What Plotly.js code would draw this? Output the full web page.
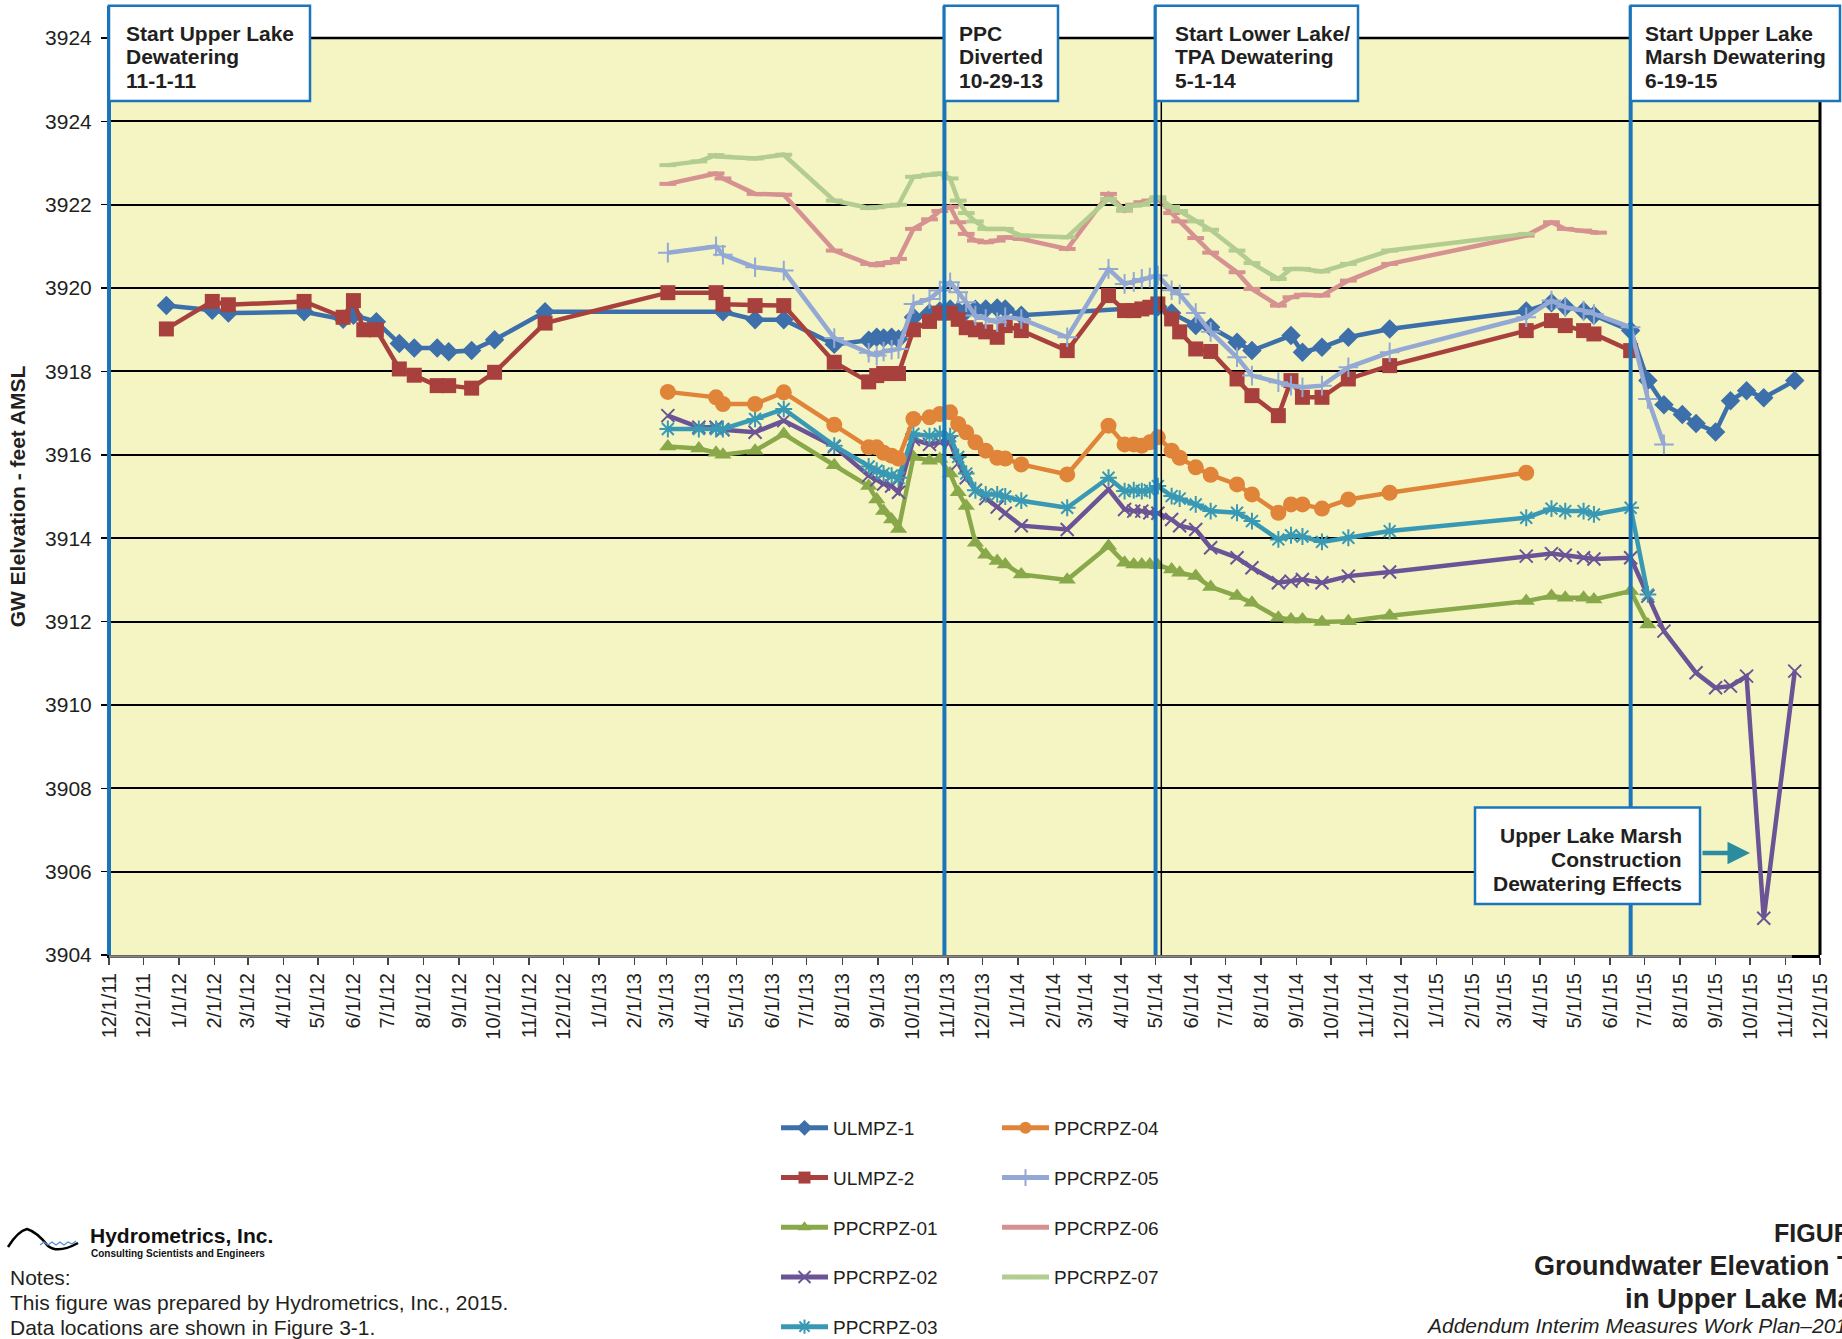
<!DOCTYPE html>
<html>
<head>
<meta charset="utf-8">
<script src="https://cdn.plot.ly/plotly-3.0.1.min.js"></script>
<style>html,body{margin:0;padding:0;background:#fff;}#chart{width:1842px;height:1339px;}</style>
</head>
<body>
<div id="chart"></div>
<script>
// ---------------- DATA ----------------
const tickDates = ['2011-11-01','2011-12-01',
 '2012-01-01','2012-02-01','2012-03-01','2012-04-01','2012-05-01','2012-06-01','2012-07-01','2012-08-01','2012-09-01','2012-10-01','2012-11-01','2012-12-01',
 '2013-01-01','2013-02-01','2013-03-01','2013-04-01','2013-05-01','2013-06-01','2013-07-01','2013-08-01','2013-09-01','2013-10-01','2013-11-01','2013-12-01',
 '2014-01-01','2014-02-01','2014-03-01','2014-04-01','2014-05-01','2014-06-01','2014-07-01','2014-08-01','2014-09-01','2014-10-01','2014-11-01','2014-12-01',
 '2015-01-01','2015-02-01','2015-03-01','2015-04-01','2015-05-01','2015-06-01','2015-07-01','2015-08-01','2015-09-01','2015-10-01','2015-11-01','2015-12-01'];
const tickLabels = ['12/1/11','12/1/11',
 '1/1/12','2/1/12','3/1/12','4/1/12','5/1/12','6/1/12','7/1/12','8/1/12','9/1/12','10/1/12','11/1/12','12/1/12',
 '1/1/13','2/1/13','3/1/13','4/1/13','5/1/13','6/1/13','7/1/13','8/1/13','9/1/13','10/1/13','11/1/13','12/1/13',
 '1/1/14','2/1/14','3/1/14','4/1/14','5/1/14','6/1/14','7/1/14','8/1/14','9/1/14','10/1/14','11/1/14','12/1/14',
 '1/1/15','2/1/15','3/1/15','4/1/15','5/1/15','6/1/15','7/1/15','8/1/15','9/1/15','10/1/15','11/1/15','12/1/15'];
const yTickVals = [3904,3906,3908,3910,3912,3914,3916,3918,3920,3922,3924,3926];
const yTickLabels = ['3904','3906','3908','3910','3912','3914','3916','3918','3920','3922','3924','3924'];

const ulmpz1Dates = ['2011-12-21','2012-01-30','2012-02-13','2012-04-19','2012-05-23','2012-06-01','2012-06-21','2012-07-11','2012-07-24','2012-08-13','2012-08-23','2012-09-12','2012-10-02','2012-11-15',
 '2013-04-19','2013-05-17','2013-06-11','2013-07-25','2013-08-24','2013-08-31','2013-09-06','2013-09-13','2013-09-19','2013-10-02','2013-10-16','2013-10-25','2013-11-03','2013-11-10','2013-11-17','2013-11-25','2013-12-04','2013-12-14','2013-12-21',
 '2014-01-04','2014-05-03','2014-05-15','2014-06-05','2014-06-18','2014-07-11','2014-07-24','2014-08-27','2014-09-06','2014-09-23','2014-10-16','2014-11-21',
 '2015-03-20','2015-04-11','2015-04-23','2015-05-09','2015-05-18','2015-06-19','2015-07-04','2015-07-18','2015-08-03','2015-08-15','2015-09-01','2015-09-14','2015-09-28','2015-10-13','2015-11-09'];
const ulmpz1Vals = [3919.58,3919.47,3919.40,3919.43,3919.25,3919.35,3919.19,3918.67,3918.56,3918.56,3918.47,3918.50,3918.76,3919.43,
 3919.43,3919.24,3919.24,3918.65,3918.75,3918.82,3918.80,3918.82,3918.78,3919.30,3919.40,3919.45,3919.50,3919.45,3919.45,3919.49,3919.50,3919.52,3919.50,
 3919.35,3919.55,3919.40,3919.10,3919.06,3918.70,3918.50,3918.86,3918.46,3918.58,3918.82,3919.02,
 3919.45,3919.65,3919.55,3919.45,3919.35,3918.98,3917.78,3917.20,3916.97,3916.75,3916.55,3917.30,3917.54,3917.37,3917.78];

const ulmpz2Dates = ['2011-12-21','2012-01-30','2012-02-13','2012-04-19','2012-05-23','2012-06-01','2012-06-10','2012-06-21','2012-07-11','2012-07-24','2012-08-13','2012-08-23','2012-09-12','2012-10-02','2012-11-15',
 '2013-03-02','2013-04-13','2013-04-19','2013-05-17','2013-06-11','2013-07-25','2013-08-24','2013-08-31','2013-09-06','2013-09-13','2013-09-19','2013-10-02','2013-10-16','2013-10-25','2013-11-03','2013-11-10','2013-11-17','2013-11-25','2013-12-04','2013-12-14','2013-12-21',
 '2014-01-04','2014-02-13','2014-03-21','2014-04-04','2014-04-12','2014-04-19','2014-04-26','2014-05-03','2014-05-15','2014-05-22','2014-06-05','2014-06-18','2014-07-11','2014-07-24','2014-08-16','2014-08-27','2014-09-06','2014-09-23','2014-10-16','2014-11-21',
 '2015-03-20','2015-04-11','2015-04-23','2015-05-09','2015-05-18','2015-06-19'];
const ulmpz2Vals = [3919.02,3919.68,3919.60,3919.68,3919.30,3919.70,3919.00,3919.00,3918.06,3917.91,3917.66,3917.66,3917.60,3917.98,3919.16,
 3919.89,3919.89,3919.61,3919.58,3919.58,3918.22,3917.75,3917.90,3917.95,3917.95,3917.95,3919.00,3919.20,3919.40,3919.40,3919.25,3919.05,3919.00,3918.95,3918.82,3919.10,
 3918.98,3918.50,3919.82,3919.46,3919.46,3919.50,3919.54,3919.62,3919.26,3918.95,3918.54,3918.48,3917.82,3917.42,3916.94,3917.78,3917.38,3917.38,3917.82,3918.14,
 3918.98,3919.22,3919.10,3918.98,3918.90,3918.50];

const pz01Dates = ['2013-03-02','2013-03-29','2013-04-13','2013-04-19','2013-05-17','2013-06-11','2013-07-25','2013-08-24','2013-08-31','2013-09-06','2013-09-13','2013-09-19','2013-10-02','2013-10-16','2013-10-25','2013-11-03','2013-11-10','2013-11-17','2013-11-25','2013-12-04','2013-12-14','2013-12-21',
 '2014-01-04','2014-02-13','2014-03-21','2014-04-04','2014-04-12','2014-04-19','2014-04-26','2014-05-03','2014-05-15','2014-05-22','2014-06-05','2014-06-18','2014-07-11','2014-07-24','2014-08-16','2014-08-27','2014-09-06','2014-09-23','2014-10-16','2014-11-21',
 '2015-03-20','2015-04-11','2015-04-23','2015-05-09','2015-05-18','2015-06-19','2015-07-04'];
const pz01Vals = [3916.20,3916.15,3916.05,3916.00,3916.10,3916.50,3915.75,3915.25,3914.93,3914.65,3914.45,3914.22,3915.95,3915.86,3915.90,3915.55,3915.10,3914.77,3913.89,3913.60,3913.45,3913.37,
 3913.13,3913.00,3913.81,3913.41,3913.37,3913.37,3913.37,3913.35,3913.25,3913.17,3913.09,3912.83,3912.61,3912.45,3912.09,3912.05,3912.05,3911.99,3912.01,3912.14,
 3912.49,3912.61,3912.57,3912.57,3912.53,3912.73,3911.93];

const pz02Dates = ['2013-03-02','2013-03-29','2013-04-13','2013-04-19','2013-05-17','2013-06-11','2013-07-25','2013-08-24','2013-08-31','2013-09-06','2013-09-13','2013-09-19','2013-10-02','2013-10-16','2013-10-25','2013-11-03','2013-11-10','2013-11-17','2013-11-25','2013-12-04','2013-12-14','2013-12-21',
 '2014-01-04','2014-02-13','2014-03-21','2014-04-04','2014-04-12','2014-04-19','2014-04-26','2014-05-03','2014-05-15','2014-05-22','2014-06-05','2014-06-18','2014-07-11','2014-07-24','2014-08-16','2014-08-27','2014-09-06','2014-09-23','2014-10-16','2014-11-21',
 '2015-03-20','2015-04-11','2015-04-23','2015-05-09','2015-05-18','2015-06-19','2015-07-04','2015-07-18','2015-08-15','2015-09-01','2015-09-14','2015-09-28','2015-10-13','2015-11-09'];
const pz02Vals = [3916.94,3916.66,3916.66,3916.60,3916.54,3916.82,3916.20,3915.50,3915.40,3915.30,3915.25,3915.10,3916.37,3916.25,3916.30,3916.30,3915.80,3915.45,3915.15,3914.95,3914.75,3914.60,
 3914.30,3914.21,3915.17,3914.69,3914.65,3914.65,3914.61,3914.60,3914.45,3914.30,3914.21,3913.77,3913.53,3913.29,3912.93,3912.97,3913.01,3912.93,3913.09,3913.19,
 3913.57,3913.63,3913.59,3913.53,3913.50,3913.53,3912.61,3911.77,3910.77,3910.41,3910.45,3910.69,3904.88,3910.81];

const pz03Dates = ['2013-03-02','2013-03-29','2013-04-13','2013-04-19','2013-05-17','2013-06-11','2013-07-25','2013-08-24','2013-08-31','2013-09-06','2013-09-13','2013-09-19','2013-10-02','2013-10-16','2013-10-25','2013-11-03','2013-11-10','2013-11-17','2013-11-25','2013-12-04','2013-12-14','2013-12-21',
 '2014-01-04','2014-02-13','2014-03-21','2014-04-04','2014-04-12','2014-04-19','2014-04-26','2014-05-03','2014-05-15','2014-05-22','2014-06-05','2014-06-18','2014-07-11','2014-07-24','2014-08-16','2014-08-27','2014-09-06','2014-09-23','2014-10-16','2014-11-21',
 '2015-03-20','2015-04-11','2015-04-23','2015-05-09','2015-05-18','2015-06-19','2015-07-04'];
const pz03Vals = [3916.62,3916.62,3916.62,3916.62,3916.86,3917.10,3916.22,3915.72,3915.62,3915.55,3915.50,3915.45,3916.50,3916.45,3916.50,3916.45,3915.95,3915.55,3915.15,3915.05,3915.05,3915.00,
 3914.90,3914.73,3915.45,3915.13,3915.15,3915.13,3915.15,3915.25,3915.01,3914.95,3914.81,3914.65,3914.61,3914.41,3913.97,3914.07,3914.04,3913.91,3914.01,3914.17,
 3914.49,3914.71,3914.65,3914.65,3914.57,3914.73,3912.65];

const pz04Dates = ['2013-03-02','2013-04-13','2013-04-19','2013-05-17','2013-06-11','2013-07-25','2013-08-24','2013-08-31','2013-09-06','2013-09-13','2013-09-19','2013-10-02','2013-10-16','2013-10-25','2013-11-03','2013-11-10','2013-11-17','2013-11-25','2013-12-04','2013-12-14','2013-12-21',
 '2014-01-04','2014-02-13','2014-03-21','2014-04-04','2014-04-12','2014-04-19','2014-04-26','2014-05-03','2014-05-15','2014-05-22','2014-06-05','2014-06-18','2014-07-11','2014-07-24','2014-08-16','2014-08-27','2014-09-06','2014-09-23','2014-10-16','2014-11-21',
 '2015-03-20'];
const pz04Vals = [3917.51,3917.38,3917.22,3917.22,3917.50,3916.72,3916.18,3916.18,3916.05,3915.98,3915.91,3916.86,3916.90,3916.98,3917.02,3916.74,3916.54,3916.30,3916.10,3915.93,3915.91,
 3915.77,3915.53,3916.70,3916.25,3916.25,3916.22,3916.30,3916.42,3916.10,3915.93,3915.70,3915.52,3915.29,3915.05,3914.61,3914.81,3914.81,3914.71,3914.93,3915.09,
 3915.57];

const pz05Dates = ['2013-03-02','2013-04-13','2013-04-19','2013-05-17','2013-06-11','2013-07-25','2013-08-24','2013-08-31','2013-09-06','2013-09-13','2013-09-19','2013-10-02','2013-10-16','2013-10-25','2013-11-03','2013-11-10','2013-11-17','2013-11-25','2013-12-04','2013-12-14','2013-12-21',
 '2014-01-04','2014-02-13','2014-03-21','2014-04-04','2014-04-12','2014-04-19','2014-04-26','2014-05-03','2014-05-15','2014-05-22','2014-06-05','2014-06-18','2014-07-11','2014-07-24','2014-08-16','2014-08-27','2014-09-06','2014-09-23','2014-10-16','2014-11-21',
 '2015-03-20','2015-04-11','2015-04-23','2015-05-09','2015-05-18','2015-06-19','2015-07-04','2015-07-18'];
const pz05Vals = [3920.85,3921.00,3920.80,3920.50,3920.42,3918.80,3918.45,3918.38,3918.48,3918.52,3918.54,3919.62,3919.74,3919.94,3920.14,3919.90,3919.66,3919.34,3919.26,3919.18,3919.30,
 3919.26,3918.82,3920.46,3920.10,3920.15,3920.22,3920.25,3920.30,3919.95,3919.85,3919.40,3918.95,3918.34,3917.90,3917.74,3917.66,3917.62,3917.66,3918.10,3918.46,
 3919.30,3919.70,3919.54,3919.46,3919.38,3919.06,3917.34,3916.25];

const pz06Dates = ['2013-03-02','2013-04-13','2013-04-19','2013-05-17','2013-06-11','2013-07-25','2013-08-24','2013-08-31','2013-09-06','2013-09-13','2013-09-19','2013-10-02','2013-10-16','2013-10-25','2013-11-03','2013-11-10','2013-11-17','2013-11-25','2013-12-04','2013-12-14','2013-12-21',
 '2014-01-04','2014-02-13','2014-03-21','2014-04-04','2014-04-12','2014-04-19','2014-04-26','2014-05-03','2014-05-15','2014-05-22','2014-06-05','2014-06-18','2014-07-11','2014-07-24','2014-08-16','2014-08-27','2014-09-06','2014-09-23','2014-10-16','2014-11-21',
 '2015-03-20','2015-04-11','2015-04-23','2015-05-09','2015-05-22'];
const pz06Vals = [3922.50,3922.75,3922.63,3922.26,3922.24,3920.90,3920.58,3920.55,3920.60,3920.62,3920.70,3921.42,3921.65,3921.85,3921.95,3921.58,3921.30,3921.14,3921.10,3921.14,3921.22,
 3921.18,3920.94,3922.26,3921.86,3922.00,3922.06,3922.10,3922.14,3921.80,3921.60,3921.20,3920.85,3920.38,3919.98,3919.58,3919.78,3919.84,3919.82,3920.18,3920.58,
 3921.26,3921.58,3921.42,3921.38,3921.33];

const pz07Dates = ['2013-03-02','2013-03-29','2013-04-13','2013-04-19','2013-05-17','2013-06-11','2013-07-25','2013-08-24','2013-08-31','2013-09-13','2013-09-19','2013-10-02','2013-10-16','2013-10-25','2013-11-03','2013-11-10','2013-11-17','2013-11-25','2013-12-04','2013-12-14','2013-12-21',
 '2014-01-04','2014-02-13','2014-03-21','2014-04-04','2014-04-12','2014-04-19','2014-05-03','2014-05-15','2014-05-22','2014-06-05','2014-06-18','2014-07-11','2014-07-24','2014-08-16','2014-08-27','2014-09-06','2014-09-23','2014-10-16','2014-11-21',
 '2015-03-20'];
const pz07Vals = [3922.95,3923.04,3923.19,3923.15,3923.11,3923.20,3922.10,3921.92,3921.94,3921.98,3922.00,3922.67,3922.72,3922.75,3922.63,3922.10,3921.80,3921.60,3921.42,3921.42,3921.42,
 3921.26,3921.22,3922.14,3921.87,3921.98,3922.00,3922.18,3921.95,3921.85,3921.60,3921.40,3920.90,3920.60,3920.22,3920.46,3920.46,3920.40,3920.58,3920.90,
 3921.30];

const eventDates = ['2011-11-01','2013-10-29','2014-05-01','2015-06-19'];

// ---------------- LAYOUT HELPERS ----------------
const W = 1842, H = 1339, ML = 109, MR = 22, MT = 38, MB = 384;
const PW = W - ML - MR, PH = H - MT - MB;
const xStart = '2011-11-01', xEnd = '2015-12-01';
function px(x) { return (x - ML) / PW; }
function py(y) { return (H - MB - y) / PH; }
function dpx(d) { return (Date.parse(d) - Date.parse(xStart)) / (Date.parse(xEnd) - Date.parse(xStart)); }

const FONT = 'Liberation Sans, Arial, Helvetica, sans-serif';
const NARROW = 'Liberation Sans Narrow, Arial Narrow, Liberation Sans, Arial, sans-serif';
const TXT = '#231F20';
const EVENT_BLUE = '#1B75BB';

function series(name, x, y, color, symbol, size, lineMarker, legendId) {
  const m = {symbol: symbol, size: size, color: color};
  if (lineMarker) { m.line = {color: color, width: lineMarker}; }
  return {
    type: 'scatter', mode: 'lines+markers', name: name, x: x, y: y,
    line: {color: color, width: 4.5},
    marker: m,
    legend: legendId, legendgroup: name,
    hoverinfo: 'skip'
  };
}

const traces = [
  series('ULMPZ-1', ulmpz1Dates, ulmpz1Vals, '#3D6FAB', 'diamond', 15, 0, 'legend'),
  series('ULMPZ-2', ulmpz2Dates, ulmpz2Vals, '#A8413E', 'square', 15, 0, 'legend'),
  series('PPCRPZ-01', pz01Dates, pz01Vals, '#88A84A', 'triangle-up', 15, 0, 'legend'),
  series('PPCRPZ-02', pz02Dates, pz02Vals, '#6B5496', 'x-thin', 13, 2, 'legend'),
  series('PPCRPZ-03', pz03Dates, pz03Vals, '#3999B4', 'asterisk', 14, 2, 'legend'),
  series('PPCRPZ-04', pz04Dates, pz04Vals, '#E0843A', 'circle', 16, 0, 'legend2'),
  series('PPCRPZ-05', pz05Dates, pz05Vals, '#93A9D4', 'cross-thin', 14, 2, 'legend2'),
  series('PPCRPZ-06', pz06Dates, pz06Vals, '#D69191', 'line-ew', 12, 4, 'legend2'),
  series('PPCRPZ-07', pz07Dates, pz07Vals, '#B3CC8F', 'line-ew', 12, 4, 'legend2')
];

// ---------------- SHAPES ----------------
const shapes = [];
shapes.push({type:'line', xref:'paper', yref:'paper', x0:0, x1:1, y0:1, y1:1, line:{color:'#000', width:2.5}, layer:'above'});
shapes.push({type:'line', xref:'paper', yref:'paper', x0:1, x1:1, y0:0, y1:1, line:{color:'#000', width:3}, layer:'above'});
shapes.push({type:'line', xref:'paper', yref:'paper', x0:0, x1:px(1792), y0:py(956.5), y1:py(956.5), line:{color:'#8a8a8a', width:2.5}, layer:'above'});
shapes.push({type:'line', xref:'paper', yref:'paper', x0:dpx('2014-05-06'), x1:dpx('2014-05-06'), y0:0, y1:py(101), line:{color:'#000', width:1.5}, layer:'above'});
eventDates.forEach(function(d) {
  const xx = dpx(d);
  shapes.push({type:'line', xref:'paper', yref:'paper', x0:xx, x1:xx, y0:0, y1:py(5.7), line:{color:EVENT_BLUE, width:4}, layer:'above'});
});
const boxes = [
  [dpx(eventDates[0]), px(310), py(5.7), py(101)],
  [dpx(eventDates[1]), px(1058), py(5.7), py(101)],
  [dpx(eventDates[2]), px(1358), py(5.7), py(101)],
  [dpx(eventDates[3]), px(1840), py(5.7), py(101)],
  [px(1475), px(1700), py(807.5), py(904)]
];
boxes.forEach(function(b) {
  shapes.push({type:'rect', xref:'paper', yref:'paper', x0:b[0], x1:b[1], y0:b[3], y1:b[2], fillcolor:'#ffffff', line:{color:EVENT_BLUE, width:2.5}, layer:'above'});
});
function pathPx(cmds) {
  return cmds.map(function(c){ return c[0] + c.slice(1).map(function(p,i){ return i%2===0 ? px(p) : py(p); }).join(','); }).join(' ');
}
shapes.push({type:'path', xref:'paper', yref:'paper', layer:'above',
  path: pathPx([['M',8,1247],['Q',18,1231,27,1229],['Q',37,1232,48,1246],['Q',58,1254,78,1243]]),
  line:{color:'#000', width:2.5}});
shapes.push({type:'path', xref:'paper', yref:'paper', layer:'above',
  path: pathPx([['M',40,1245],['L',44,1242],['L',48,1245],['L',52,1242],['L',56,1245],['L',60,1242],['L',64,1245],['L',68,1242],['L',72,1244],['L',76,1241]]),
  line:{color:'#5B8FD0', width:1.2}});

// ---------------- ANNOTATIONS ----------------
const annotations = [];
function ann(text, x, y, opts) {
  const a = {text: text, xref:'paper', yref:'paper', x: px(x), y: py(y), showarrow:false,
    xanchor:'left', yanchor:'middle', font:{family:FONT, size:21, color:TXT}};
  Object.assign(a, opts || {});
  annotations.push(a);
}
const boxTexts = [
  {lines:['Start Upper Lake','Dewatering','11-1-11'], x:124, ys:[33,57,81], anchor:'left'},
  {lines:['PPC','Diverted','10-29-13'], x:957, ys:[33,57,81], anchor:'left'},
  {lines:['Start Lower Lake/','TPA Dewatering','5-1-14'], x:1173, ys:[33,57,81], anchor:'left'},
  {lines:['Start Upper Lake','Marsh Dewatering','6-19-15'], x:1643, ys:[33,57,81], anchor:'left'},
  {lines:['Upper Lake Marsh','Construction','Dewatering Effects'], x:1684, ys:[835,859,883], anchor:'right'}
];
boxTexts.forEach(function(bt) {
  bt.lines.forEach(function(l, i) {
    ann('<b>' + l + '</b>', bt.x, bt.ys[i], {xanchor: bt.anchor});
  });
});
annotations.push({text:'', xref:'paper', yref:'paper', x:px(1750), y:py(853), ax:-49, ay:0,
  showarrow:true, arrowhead:2, arrowsize:1, arrowwidth:4.5, arrowcolor:'#2A8C9E'});
ann('<b>Hydrometrics, Inc.</b>', 88, 1235, {font:{family:NARROW, size:21, color:'#111'}});
ann('<b>Consulting Scientists and Engineers</b>', 89, 1253, {font:{family:NARROW, size:10, color:'#111'}});
ann('Notes:', 8, 1277);
ann('This figure was prepared by Hydrometrics, Inc., 2015.', 8, 1302);
ann('Data locations are shown in Figure 3-1.', 8, 1327);
ann('<b>FIGURE 3-6</b>', 1772, 1233, {font:{family:FONT, size:25, color:TXT}});
ann('<b>Groundwater Elevation Trends</b>', 1532, 1266, {font:{family:FONT, size:27, color:TXT}});
ann('<b>in Upper Lake Marsh</b>', 1623, 1298, {font:{family:FONT, size:27.5, color:TXT}});
ann('<i>Addendum Interim Measures Work Plan\u20132015</i>', 1424, 1325, {font:{family:FONT, size:21, color:TXT}});

// ---------------- LAYOUT ----------------
const legendCommon = {
  orientation:'v', xanchor:'left', yanchor:'top', traceorder:'grouped', tracegroupgap:22,
  itemwidth:47, itemsizing:'constant', bgcolor:'rgba(0,0,0,0)', borderwidth:0,
  font:{family:NARROW, size:19, color:TXT}
};
const layout = {
  width: W, height: H,
  margin: {l: ML, r: MR, t: MT, b: MB, pad: 0, autoexpand: false},
  paper_bgcolor: '#ffffff',
  plot_bgcolor: '#F5F5C4',
  font: {family: FONT, color: TXT},
  showlegend: true,
  hovermode: false,
  legend: Object.assign({}, legendCommon, {x: px(776), y: py(1109)}),
  legend2: Object.assign({}, legendCommon, {x: px(997), y: py(1109)}),
  xaxis: {
    type: 'date', range: [xStart, xEnd], automargin: false,
    tickmode: 'array', tickvals: tickDates, ticktext: tickLabels,
    tickangle: -90, tickfont: {family: FONT, size: 20, color: TXT},
    ticks: 'outside', ticklen: 7, tickwidth: 1.5, tickcolor: '#444',
    showgrid: false, zeroline: false,
    showline: true, linecolor: '#000', linewidth: 3
  },
  yaxis: {
    range: [3904, 3926], automargin: false,
    tickmode: 'array', tickvals: yTickVals, ticktext: yTickLabels,
    tickfont: {family: FONT, size: 21, color: TXT},
    ticks: 'outside', ticklen: 6, tickwidth: 1.5, tickcolor: '#000', ticklabelstandoff: 5,
    showgrid: true, gridcolor: '#000', gridwidth: 2,
    zeroline: false, showline: true, linecolor: '#000', linewidth: 2,
    title: {text: '<b>GW Elelvation - feet AMSL</b>', font: {family: FONT, size: 21, color: TXT}, standoff: 14}
  },
  shapes: shapes,
  annotations: annotations
};

Plotly.newPlot('chart', traces, layout, {displayModeBar: false, staticPlot: true});
</script>
</body>
</html>
